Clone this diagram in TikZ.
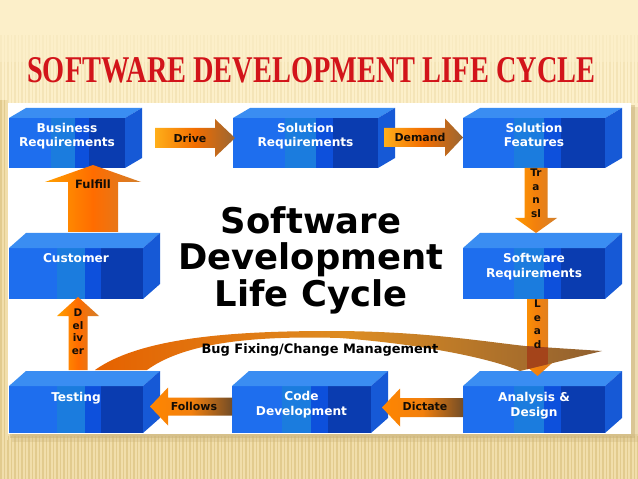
\documentclass[tikz,border=0pt]{standalone}
\usepackage{graphicx}
\usepackage{fontspec}
\setmainfont{Liberation Serif}
\newfontfamily\dv{DejaVu Sans}
\usetikzlibrary{calc,fit}
\definecolor{bgc}{HTML}{FCEFC9}
\definecolor{stripec}{HTML}{E2CB8E}
\definecolor{botc}{HTML}{F1DEAB}
\definecolor{shadowc}{HTML}{C9B27A}
\definecolor{titlered}{HTML}{D2141A}
\definecolor{bA}{HTML}{1E6EEE}
\definecolor{bB}{HTML}{1B7CDE}
\definecolor{bC}{HTML}{0D50DC}
\definecolor{bD}{HTML}{0A3CB0}
\definecolor{topblue}{HTML}{3A8DF2}
\definecolor{sideblue}{HTML}{1659D6}
\definecolor{overlapc}{HTML}{A4441A}
% #1 name, #2 x1, #3 y1, #4 x2, #5 y2, #6 depth, #7 label, #8 offset of last baseline
\newcommand\sdlcbox[8]{%
  \node[frontface, fit={(#2,#3) (#4,#5)}] (#1) {};
  \fill[topblue] (#1.north west) -- ++(17,-#6) -- ($(#1.north east)+(17,-#6)$) -- (#1.north east) -- cycle;
  \fill[sideblue] (#1.north east) -- ++(17,-#6) -- ($(#1.south east)+(17,-#6)$) -- (#1.south east) -- cycle;
  \node[boxtext, anchor=base] (#1-t) at ($(#1.north)+(0,#8)$) {#7};
}
% #1 name, #2 from, #3 to, #4 shaft half, #5 head half, #6 head length, #7 style
\newcommand\blockarrow[7]{%
  \coordinate (#1-h) at ($(#3)!#6!(#2)$);
  \path[#7] ($(#2)!#4!90:(#3)$) -- ($(#1-h)!#4!90:(#3)$) -- ($(#1-h)!#5!90:(#3)$) -- (#3)
     -- ($(#1-h)!#5!-90:(#3)$) -- ($(#1-h)!#4!-90:(#3)$) -- ($(#2)!#4!-90:(#3)$) -- cycle;
}
\def\swooshpath{(95,370) .. controls (140,338) and (230,331) .. (330,331) .. controls (420,331) and (480,341) .. (525,346) -- (602,351) -- (520,371) .. controls (490,358) and (420,344) .. (340,338) .. controls (240,335) and (180,346) .. (147,370) -- cycle}
\begin{document}
\begin{tikzpicture}[x=1bp,y=-1bp,
  frontface/.style={inner sep=0pt, outer sep=0pt, draw=none,
    path picture={
      \fill[bA] (path picture bounding box.south west) rectangle (path picture bounding box.north east);
      \fill[bB] ($(path picture bounding box.south west)!.36!(path picture bounding box.south east)$) rectangle ($(path picture bounding box.north west)!.57!(path picture bounding box.north east)$);
      \fill[bC] ($(path picture bounding box.south west)!.57!(path picture bounding box.south east)$) rectangle ($(path picture bounding box.north west)!.69!(path picture bounding box.north east)$);
      \fill[bD] ($(path picture bounding box.south west)!.69!(path picture bounding box.south east)$) rectangle (path picture bounding box.north east);
    }},
  boxtext/.style={inner sep=0pt, text=white, align=center, font=\dv\bfseries\fontsize{12.2}{15}\selectfont},
  arrtext/.style={inner sep=0pt, text=black!90!brown, font=\dv\bfseries\fontsize{11}{13}\selectfont},
  vtext/.style={inner sep=0pt, text=black!90!brown, align=center, font=\dv\bfseries\fontsize{10.5}{13.5}\selectfont},
  rightarr/.style={left color=orange!70!yellow!90!white, right color=brown!80!black, middle color=orange!90!red!95!black},
  leftarr/.style={left color=orange!95!yellow, right color=brown!60!black, middle color=orange!80!brown},
  uparr/.style={left color=orange!75!yellow, right color=brown!70!orange, middle color=orange!85!red},
  downarr/.style={left color=orange!80!yellow, right color=brown!70!orange, middle color=orange!80!brown}
]
\useasboundingbox (0,0) rectangle (638,479);
% background
\fill[bgc] (0,0) rectangle (638,479);
\foreach \x in {1,4.5,...,638} \draw[stripec, line width=1.2bp, opacity=.12] (\x,35) -- (\x,62);
\foreach \x in {1,4.5,...,638} \draw[stripec, line width=1.2bp, opacity=.3] (\x,62) -- (\x,103);
\fill[botc] (0,434) rectangle (638,479);
\foreach \x in {1,4.5,...,638} \draw[stripec, line width=1.4bp] (\x,436) -- (\x,479);
\fill[botc] (0,100) rectangle (8,440);
\foreach \x in {1,4.5} \draw[stripec, line width=1.4bp] (\x,100) -- (\x,440);
% panel
\fill[shadowc, opacity=.3] (12,107) rectangle (638,442);
\fill[shadowc, opacity=.5] (10,105) rectangle (635,438);
\fill[white] (8,103) rectangle (631,434);
% title
\node[anchor=base west, inner sep=0pt, text=titlered] (title) at (27,83) {\resizebox{568bp}{25bp}{\bfseries SOFTWARE DEVELOPMENT LIFE CYCLE}};
% boxes
\sdlcbox{br}{9}{118}{125}{168}{10}{Business\\Requirements}{29}
\sdlcbox{sr}{233}{118}{378}{168}{10}{Solution\\Requirements}{29}
\sdlcbox{sf}{463}{118}{605}{168}{10}{Solution\\Features}{29}
\sdlcbox{cu}{9}{248}{143}{299}{15}{Customer}{14}
\sdlcbox{sw}{463}{248}{605}{299}{15}{Software\\Requirements}{29}
\sdlcbox{te}{9}{386}{143}{433}{15}{Testing}{15}
\sdlcbox{cd}{232}{386}{371}{433}{15}{Code\\Development}{29}
\sdlcbox{ad}{463}{386}{605}{433}{15}{Analysis \&\\Design}{30}
% arrows
\coordinate (drive-a) at (155,138);  \coordinate (drive-b) at (235,138);
\coordinate (demand-a) at (384,137.5); \coordinate (demand-b) at (463,137.5);
\coordinate (trans-a) at (536,168); \coordinate (trans-b) at (536,233);
\coordinate (lead-a) at (537.5,299); \coordinate (lead-b) at (537.5,376);
\coordinate (dictate-a) at (463,407.5); \coordinate (dictate-b) at (382,407.5);
\coordinate (follows-a) at (232,406.5); \coordinate (follows-b) at (150,406.5);
\coordinate (deliver-a) at (78,370); \coordinate (deliver-b) at (78,297);
\coordinate (fulfill-a) at (93,232); \coordinate (fulfill-b) at (93,165);
\blockarrow{drive}{drive-a}{drive-b}{10bp}{19bp}{20bp}{rightarr}
\blockarrow{demand}{demand-a}{demand-b}{9.5bp}{19bp}{18bp}{rightarr}
\blockarrow{trans}{trans-a}{trans-b}{11.5bp}{21bp}{15bp}{downarr}
\blockarrow{dictate}{dictate-a}{dictate-b}{9.5bp}{19bp}{18bp}{leftarr}
\blockarrow{follows}{follows-a}{follows-b}{9bp}{19bp}{18bp}{leftarr}
\blockarrow{deliver}{deliver-a}{deliver-b}{9.5bp}{21bp}{19bp}{uparr}
\blockarrow{fulfill}{fulfill-a}{fulfill-b}{25bp}{48bp}{17bp}{uparr}
\blockarrow{lead}{lead-a}{lead-b}{10.5bp}{18bp}{16bp}{downarr}
% swoosh
\path[left color=orange!85!red!90!black, right color=brown!75!black, middle color=brown!60!orange!90!yellow] \swooshpath;
\begin{scope}
  \clip \swooshpath;
  \fill[overlapc] (527,320) rectangle (548,380);
\end{scope}
% arrow labels
\node[arrtext] (drive-t) at (190,138) {Drive};
\node[arrtext] (demand-t) at (420,137) {Demand};
\node[arrtext] (dictate-t) at (425,406) {Dictate};
\node[arrtext] (follows-t) at (194,406) {Follows};
\node[arrtext, font=\dv\bfseries\fontsize{11.5}{13}\selectfont] (fulfill-t) at (93,184) {Fulfill};
\node[vtext, anchor=north] (trans-t) at (536,169) {Tr\\a\\n\\sl};
\node[vtext, anchor=north] (lead-t) at (537.5,300) {L\\e\\a\\d};
\node[vtext, anchor=north, font=\dv\bfseries\fontsize{10.5}{12.5}\selectfont] (deliver-t) at (78,309) {D\\el\\iv\\er};
% centre text
\node[inner sep=0pt, align=center, anchor=base, font=\dv\bfseries\fontsize{35.5}{36.5}\selectfont] (centre) at (311,306) {Software\\Development\\Life Cycle};
\node[inner sep=0pt, anchor=base, font=\dv\bfseries\fontsize{13}{15}\selectfont] (bug) at (320,353) {Bug Fixing/Change Management};
\end{tikzpicture}
\end{document}
